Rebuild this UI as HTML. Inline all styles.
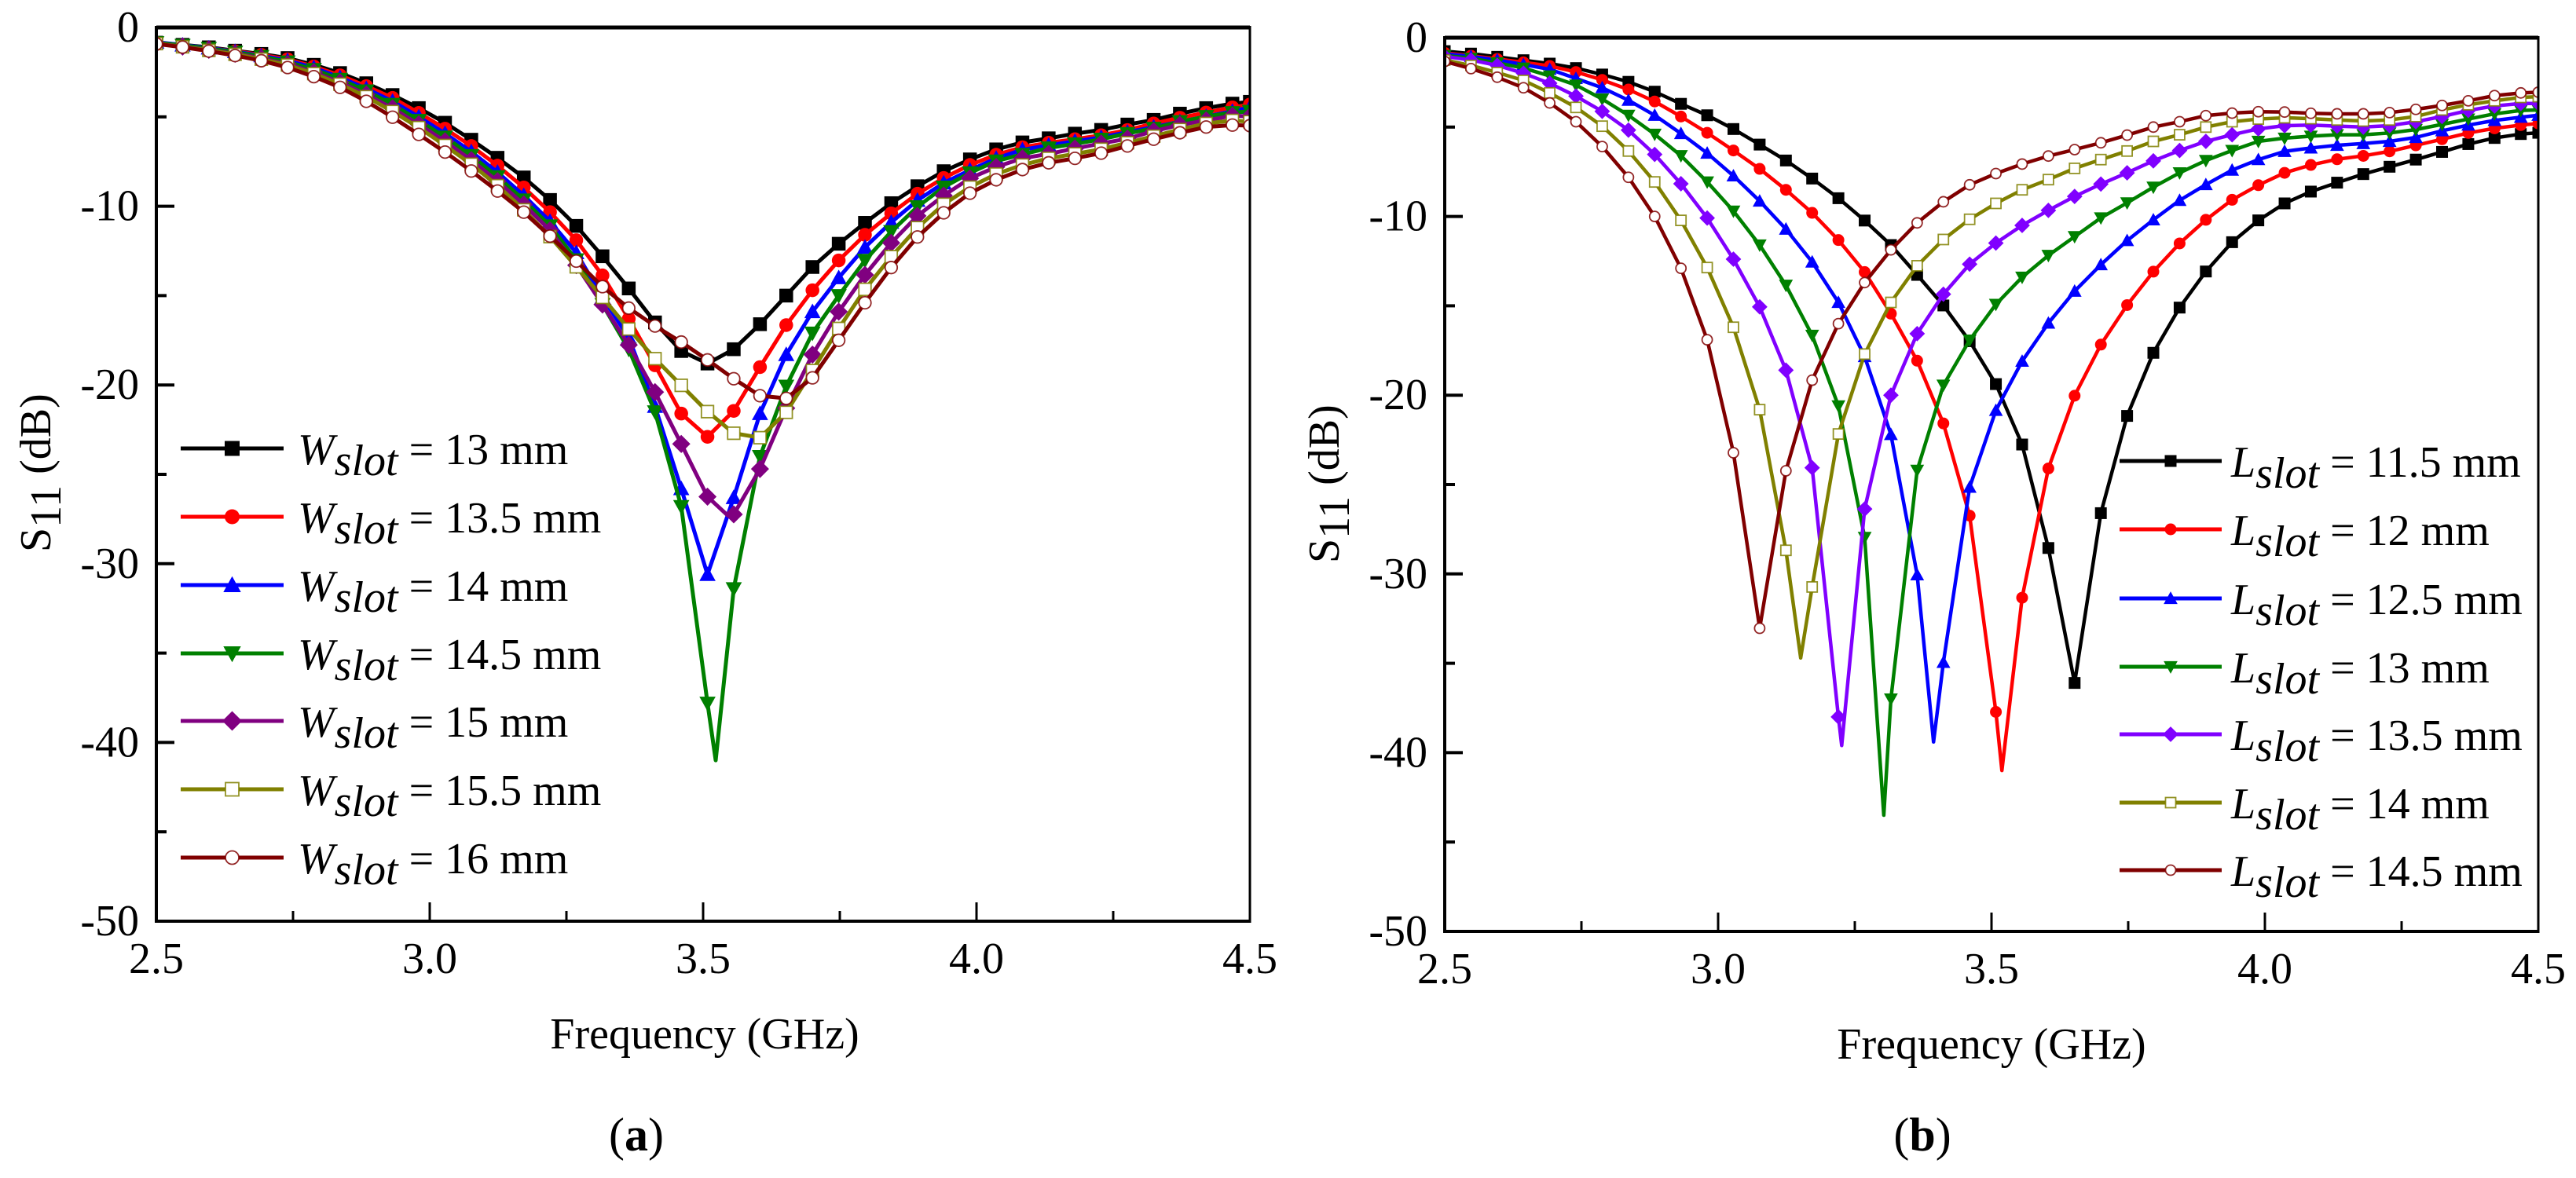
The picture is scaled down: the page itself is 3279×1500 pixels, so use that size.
<!DOCTYPE html>
<html lang="en">
<head>
<meta charset="utf-8">
<title>S11 versus frequency for slot width and slot length</title>
<style>
html,body{margin:0;padding:0;background:#fff;}
svg{display:block;}
text{font-family:"Liberation Serif","Times New Roman",serif;font-size:56px;fill:#000;}
.it{font-style:italic;}
</style>
</head>
<body>
<svg id="figure" xmlns="http://www.w3.org/2000/svg" width="3279" height="1500" viewBox="0 0 3279 1500">
<rect x="0" y="0" width="3279" height="1500" fill="#fff"/>
<defs>
<clipPath id="clip-a"><rect x="199" y="35" width="1392" height="1138"/></clipPath>
<clipPath id="clip-b"><rect x="1839" y="48" width="1392" height="1138"/></clipPath>
</defs>

<g id="panel-a">
<g id="series-a" clip-path="url(#clip-a)"></g>
<g id="axes-a"></g>
<g id="legend-keys-a"></g>
<g>
<text x="379" y="591"><tspan class="it">W</tspan><tspan class="it" dy="14">slot</tspan><tspan dy="-14"> = 13 mm</tspan></text>
<text x="379" y="678"><tspan class="it">W</tspan><tspan class="it" dy="14">slot</tspan><tspan dy="-14"> = 13.5 mm</tspan></text>
<text x="379" y="765"><tspan class="it">W</tspan><tspan class="it" dy="14">slot</tspan><tspan dy="-14"> = 14 mm</tspan></text>
<text x="379" y="852"><tspan class="it">W</tspan><tspan class="it" dy="14">slot</tspan><tspan dy="-14"> = 14.5 mm</tspan></text>
<text x="379" y="938"><tspan class="it">W</tspan><tspan class="it" dy="14">slot</tspan><tspan dy="-14"> = 15 mm</tspan></text>
<text x="379" y="1025"><tspan class="it">W</tspan><tspan class="it" dy="14">slot</tspan><tspan dy="-14"> = 15.5 mm</tspan></text>
<text x="379" y="1112"><tspan class="it">W</tspan><tspan class="it" dy="14">slot</tspan><tspan dy="-14"> = 16 mm</tspan></text>
</g>
<text x="897" y="1335" text-anchor="middle">Frequency (GHz)</text>
<text transform="translate(64,703) rotate(-90)">S<tspan dy="13">11</tspan><tspan dy="-13"> (dB)</tspan></text>
<text x="810" y="1465" text-anchor="middle" style="font-size:60px">(<tspan font-weight="bold">a</tspan>)</text>
</g>

<g id="panel-b">
<g id="series-b" clip-path="url(#clip-b)"></g>
<g id="axes-b"></g>
<g id="legend-keys-b"></g>
<g>
<text x="2840" y="607"><tspan class="it">L</tspan><tspan class="it" dy="14">slot</tspan><tspan dy="-14"> = 11.5 mm</tspan></text>
<text x="2840" y="694"><tspan class="it">L</tspan><tspan class="it" dy="14">slot</tspan><tspan dy="-14"> = 12 mm</tspan></text>
<text x="2840" y="782"><tspan class="it">L</tspan><tspan class="it" dy="14">slot</tspan><tspan dy="-14"> = 12.5 mm</tspan></text>
<text x="2840" y="869"><tspan class="it">L</tspan><tspan class="it" dy="14">slot</tspan><tspan dy="-14"> = 13 mm</tspan></text>
<text x="2840" y="955"><tspan class="it">L</tspan><tspan class="it" dy="14">slot</tspan><tspan dy="-14"> = 13.5 mm</tspan></text>
<text x="2840" y="1042"><tspan class="it">L</tspan><tspan class="it" dy="14">slot</tspan><tspan dy="-14"> = 14 mm</tspan></text>
<text x="2840" y="1128"><tspan class="it">L</tspan><tspan class="it" dy="14">slot</tspan><tspan dy="-14"> = 14.5 mm</tspan></text>
</g>
<text x="2535" y="1348" text-anchor="middle">Frequency (GHz)</text>
<text transform="translate(1704,717) rotate(-90)">S<tspan dy="13">11</tspan><tspan dy="-13"> (dB)</tspan></text>
<text x="2447" y="1465" text-anchor="middle" style="font-size:60px">(<tspan font-weight="bold">b</tspan>)</text>
</g>
</svg>

<script>
// Shared frequency samples (GHz) at which markers are placed.
const frequencies = [2.5,2.548,2.596,2.644,2.692,2.74,2.788,2.836,2.884,2.932,2.98,3.028,3.076,3.124,3.172,3.22,3.268,3.316,3.364,3.412,3.46,3.508,3.556,3.604,3.652,3.7,3.748,3.796,3.844,3.892,3.94,3.988,4.036,4.084,4.132,4.18,4.228,4.276,4.324,4.372,4.42,4.468,4.5];

// Axis tick values and labels
const xMajorTicks = [2.5,3.0,3.5,4.0,4.5];
const xMinorTicks = [2.75,3.25,3.75,4.25];
const xTickLabels = ['2.5','3.0','3.5','4.0','4.5'];
const yMajorTicks = [0,-10,-20,-30,-40,-50];
const yMinorTicks = [-5,-15,-25,-35,-45];
const yTickLabels = ['0','-10','-20','-30','-40','-50'];

// Panel (a): S11 in dB for each slot width
const wslot13 = [-0.85,-0.97,-1.11,-1.3,-1.48,-1.71,-2.09,-2.55,-3.12,-3.78,-4.51,-5.33,-6.28,-7.29,-8.39,-9.65,-11.1,-12.8,-14.6,-16.5,-18.1,-18.8,-18.0,-16.6,-15.0,-13.4,-12.1,-10.93,-9.83,-8.88,-8.04,-7.38,-6.82,-6.43,-6.2,-5.94,-5.73,-5.43,-5.17,-4.82,-4.51,-4.26,-4.16];
const wslot135 = [-0.85,-1.0,-1.15,-1.33,-1.53,-1.78,-2.18,-2.68,-3.28,-3.94,-4.78,-5.66,-6.63,-7.73,-8.95,-10.33,-11.9,-13.87,-16.3,-18.9,-21.6,-22.9,-21.45,-19.0,-16.65,-14.7,-13.03,-11.6,-10.4,-9.3,-8.42,-7.69,-7.12,-6.7,-6.45,-6.25,-6.03,-5.74,-5.37,-5.05,-4.76,-4.47,-4.31];
const wslot14 = [-0.82,-0.98,-1.15,-1.35,-1.58,-1.85,-2.25,-2.8,-3.42,-4.13,-5.0,-5.93,-6.95,-8.1,-9.4,-10.85,-12.6,-15.1,-17.35,-21.2,-25.8,-30.6,-26.3,-21.6,-18.3,-15.9,-14.0,-12.3,-10.9,-9.67,-8.7,-7.98,-7.32,-6.84,-6.59,-6.37,-6.15,-5.86,-5.57,-5.27,-4.98,-4.69,-4.47];
const wslot145 = [-0.85,-1.0,-1.17,-1.38,-1.62,-1.93,-2.35,-2.9,-3.55,-4.3,-5.2,-6.13,-7.17,-8.35,-9.65,-11.1,-13.0,-15.5,-18.0,-21.5,-26.8,-37.8,-31.4,-24.0,-20.07,-17.1,-15.0,-13.03,-11.42,-10.03,-8.93,-8.13,-7.47,-7.1,-6.74,-6.51,-6.25,-5.93,-5.64,-5.27,-4.98,-4.76,-4.69];
const wslot15 = [-0.9,-1.07,-1.25,-1.47,-1.72,-2.05,-2.5,-3.07,-3.75,-4.52,-5.42,-6.37,-7.42,-8.6,-9.9,-11.35,-13.3,-15.5,-17.76,-20.4,-23.3,-26.25,-27.24,-24.7,-21.3,-18.3,-15.9,-13.84,-12.05,-10.54,-9.4,-8.44,-7.8,-7.32,-7.07,-6.77,-6.49,-6.22,-5.8,-5.45,-5.2,-4.94,-4.97];
const wslot155 = [-0.9,-1.08,-1.28,-1.5,-1.77,-2.1,-2.58,-3.17,-3.87,-4.7,-5.6,-6.6,-7.65,-8.85,-10.2,-11.7,-13.39,-15.1,-16.87,-18.53,-20.02,-21.49,-22.7,-22.95,-21.53,-19.19,-16.84,-14.65,-12.82,-11.2,-9.89,-8.93,-8.2,-7.69,-7.32,-7.07,-6.81,-6.45,-6.08,-5.71,-5.37,-5.2,-5.27];
const wslot16 = [-0.92,-1.1,-1.32,-1.57,-1.86,-2.24,-2.75,-3.35,-4.13,-5.02,-5.98,-6.97,-8.03,-9.15,-10.33,-11.67,-13.07,-14.5,-15.7,-16.7,-17.6,-18.6,-19.65,-20.6,-20.75,-19.6,-17.5,-15.4,-13.43,-11.72,-10.37,-9.27,-8.52,-7.95,-7.57,-7.32,-7.03,-6.63,-6.25,-5.89,-5.57,-5.46,-5.49];

// Panel (a): resonance minima that fall between marker samples (null = none)
const wslotDipFrequency = [null,null,null,3.523,3.545,null,null];
const wslotDipValue = [null,null,null,-41.0,-27.3,null,null];

// Panel (b): S11 in dB for each slot length
const lslot115 = [-0.75,-0.89,-1.07,-1.26,-1.45,-1.7,-2.06,-2.47,-3.02,-3.7,-4.34,-5.11,-5.98,-6.87,-7.88,-8.98,-10.23,-11.6,-13.27,-14.98,-16.98,-19.38,-22.76,-28.55,-36.1,-26.6,-21.16,-17.63,-15.1,-13.08,-11.44,-10.22,-9.27,-8.61,-8.11,-7.63,-7.22,-6.82,-6.39,-5.95,-5.61,-5.39,-5.32];
const lslot12 = [-0.85,-1.01,-1.19,-1.38,-1.58,-1.92,-2.36,-2.9,-3.57,-4.41,-5.32,-6.31,-7.34,-8.51,-9.8,-11.32,-13.11,-15.44,-18.07,-21.58,-26.74,-37.72,-31.33,-24.1,-20.03,-17.17,-14.96,-13.09,-11.51,-10.19,-9.07,-8.25,-7.56,-7.12,-6.8,-6.61,-6.36,-6.02,-5.68,-5.33,-5.07,-4.89,-4.8];
const lslot125 = [-0.9,-1.05,-1.25,-1.5,-1.77,-2.28,-2.8,-3.5,-4.34,-5.36,-6.46,-7.73,-9.14,-10.71,-12.55,-14.81,-17.84,-22.2,-30.05,-34.95,-25.15,-20.85,-18.1,-15.97,-14.18,-12.7,-11.35,-10.19,-9.1,-8.22,-7.41,-6.82,-6.36,-6.17,-6.02,-5.92,-5.8,-5.58,-5.21,-4.89,-4.63,-4.45,-4.34];
const lslot13 = [-1.0,-1.15,-1.41,-1.7,-2.14,-2.65,-3.43,-4.34,-5.4,-6.6,-8.07,-9.7,-11.6,-13.85,-16.65,-20.6,-27.96,-37.0,-24.2,-19.44,-16.92,-14.92,-13.4,-12.18,-11.13,-10.08,-9.24,-8.36,-7.56,-6.87,-6.31,-5.8,-5.62,-5.51,-5.43,-5.43,-5.33,-5.14,-4.85,-4.55,-4.26,-4.07,-4.04];
const lslot135 = [-1.05,-1.25,-1.55,-1.99,-2.55,-3.27,-4.12,-5.17,-6.53,-8.17,-10.09,-12.39,-15.06,-18.6,-24.06,-38.0,-26.37,-20.0,-16.56,-14.35,-12.67,-11.49,-10.5,-9.66,-8.88,-8.19,-7.56,-6.89,-6.31,-5.8,-5.43,-5.1,-4.92,-4.89,-4.95,-5.0,-4.92,-4.7,-4.41,-4.07,-3.82,-3.68,-3.68];
const lslot14 = [-1.25,-1.55,-1.95,-2.39,-3.09,-3.9,-4.95,-6.34,-8.07,-10.22,-12.86,-16.2,-20.81,-28.68,-30.73,-22.17,-17.7,-14.81,-12.76,-11.29,-10.16,-9.27,-8.51,-7.94,-7.31,-6.82,-6.34,-5.8,-5.43,-5.0,-4.7,-4.55,-4.48,-4.53,-4.6,-4.66,-4.6,-4.41,-4.04,-3.75,-3.53,-3.34,-3.3];
const lslot145 = [-1.33,-1.73,-2.21,-2.8,-3.65,-4.7,-6.09,-7.81,-10.0,-12.9,-16.9,-23.22,-33.04,-24.23,-19.16,-16.0,-13.7,-11.87,-10.36,-9.18,-8.23,-7.6,-7.07,-6.62,-6.26,-5.88,-5.45,-5.0,-4.7,-4.36,-4.22,-4.14,-4.16,-4.23,-4.26,-4.26,-4.19,-4.01,-3.79,-3.53,-3.24,-3.09,-3.05];

// Panel (b): resonance minima that fall between marker samples (null = none)
const lslotDipFrequency = [null,3.519,3.394,3.303,3.226,3.151,null];
const lslotDipValue = [null,-41.0,-39.4,-43.5,-39.6,-34.7,null];

const NS = 'http://www.w3.org/2000/svg';
const markerKinds = ['square','circle','up','down','diamond','open-square','open-circle'];
const colorsA = ['#000000','#ff0000','#0000ff','#008000','#800080','#808000','#800000'];
const colorsB = ['#000000','#ff0000','#0000ff','#008000','#8000ff','#808000','#800000'];
const seriesNamesA = ['wslot-13','wslot-13-5','wslot-14','wslot-14-5','wslot-15','wslot-15-5','wslot-16'];
const seriesNamesB = ['lslot-11-5','lslot-12','lslot-12-5','lslot-13','lslot-13-5','lslot-14','lslot-14-5'];

function node(tag, attrs, parent) {
  const el = document.createElementNS(NS, tag);
  for (const k in attrs) el.setAttribute(k, attrs[k]);
  parent.appendChild(el);
  return el;
}

function drawMarker(parent, kind, cx, cy, size, color, name) {
  const h = size / 2;
  let el;
  if (kind === 'square') {
    el = node('rect', {x: cx - h, y: cy - h, width: size, height: size, fill: color}, parent);
  } else if (kind === 'circle') {
    el = node('circle', {cx: cx, cy: cy, r: h, fill: color}, parent);
  } else if (kind === 'up') {
    const t = h * 1.18;
    el = node('path', {d: 'M' + cx + ' ' + (cy - t) + 'L' + (cx + t) + ' ' + (cy + t * 0.8) + 'L' + (cx - t) + ' ' + (cy + t * 0.8) + 'Z', fill: color}, parent);
  } else if (kind === 'down') {
    const t = h * 1.18;
    el = node('path', {d: 'M' + cx + ' ' + (cy + t) + 'L' + (cx + t) + ' ' + (cy - t * 0.8) + 'L' + (cx - t) + ' ' + (cy - t * 0.8) + 'Z', fill: color}, parent);
  } else if (kind === 'diamond') {
    const t = h * 1.32;
    el = node('path', {d: 'M' + cx + ' ' + (cy - t) + 'L' + (cx + t) + ' ' + cy + 'L' + cx + ' ' + (cy + t) + 'L' + (cx - t) + ' ' + cy + 'Z', fill: color}, parent);
  } else if (kind === 'open-square') {
    el = node('rect', {x: cx - h + 1, y: cy - h + 1, width: size - 2, height: size - 2, fill: '#fff', stroke: color, 'stroke-width': 1.8, 'stroke-opacity': 0.85}, parent);
  } else {
    el = node('circle', {cx: cx, cy: cy, r: h - 1, fill: '#fff', stroke: color, 'stroke-width': 1.8, 'stroke-opacity': 0.85}, parent);
  }
  
  
  return el;
}

function drawAxes(group, box, prefix) {
  const sx = f => box.x0 + (f - 2.5) / 2 * (box.x1 - box.x0);
  const sy = v => box.y0 + (-v) / 50 * (box.y1 - box.y0);
  const frame = node('path', {d: 'M' + box.x0 + ' ' + box.y0 + 'H' + box.x1, stroke: '#000', 'stroke-width': 5, fill: 'none'}, group);
  
  
  const bottom = node('path', {d: 'M' + (box.x0 - 2) + ' ' + box.y1 + 'H' + (box.x1 + 1.5), stroke: '#000', 'stroke-width': 4, fill: 'none'}, group);
  
  
  const left = node('path', {d: 'M' + box.x0 + ' ' + (box.y0 - 2) + 'V' + box.y1, stroke: '#000', 'stroke-width': 4, fill: 'none'}, group);
  
  
  const right = node('path', {d: 'M' + box.x1 + ' ' + (box.y0 - 2) + 'V' + box.y1, stroke: '#000', 'stroke-width': 3, fill: 'none'}, group);
  
  

  xMajorTicks.forEach((f, i) => {
    const t = node('path', {d: 'M' + sx(f) + ' ' + box.y1 + 'V' + (box.y1 - 24), stroke: '#000', 'stroke-width': 3, fill: 'none'}, group);
    
    
    const l = node('text', {x: sx(f), y: box.y1 + 66, 'text-anchor': 'middle'}, group);
    
    
    l.textContent = xTickLabels[i];
  });
  xMinorTicks.forEach(f => {
    const t = node('path', {d: 'M' + sx(f) + ' ' + box.y1 + 'V' + (box.y1 - 13), stroke: '#000', 'stroke-width': 3, fill: 'none'}, group);
    
    
  });
  yMajorTicks.forEach((v, i) => {
    const t = node('path', {d: 'M' + box.x0 + ' ' + sy(v) + 'H' + (box.x0 + 23), stroke: '#000', 'stroke-width': 4, fill: 'none'}, group);
    
    
    const l = node('text', {x: box.x0 - 22, y: sy(v) + 18, 'text-anchor': 'end'}, group);
    
    
    l.textContent = yTickLabels[i];
  });
  yMinorTicks.forEach(v => {
    const t = node('path', {d: 'M' + box.x0 + ' ' + sy(v) + 'H' + (box.x0 + 13), stroke: '#000', 'stroke-width': 4, fill: 'none'}, group);
    
    
  });
}

function drawSeries(group, box, seriesList, dipF, dipV, colors, names, lineWidth, size) {
  const sx = f => box.x0 + (f - 2.5) / 2 * (box.x1 - box.x0);
  const sy = v => box.y0 + (-v) / 50 * (box.y1 - box.y0);
  seriesList.forEach((values, s) => {
    const g = node('g', {}, group);
    
    
    const pts = frequencies.map((f, i) => [f, values[i]]);
    if (dipF[s] !== null) pts.push([dipF[s], dipV[s]]);
    pts.sort((a, b) => a[0] - b[0]);
    const d = pts.map((p, i) => (i ? 'L' : 'M') + sx(p[0]).toFixed(2) + ' ' + sy(p[1]).toFixed(2)).join('');
    const line = node('path', {d: d, fill: 'none', stroke: colors[s], 'stroke-width': lineWidth, 'stroke-linejoin': 'round'}, g);
    
    
    frequencies.forEach((f, i) => {
      drawMarker(g, markerKinds[s], sx(f), sy(values[i]), size, colors[s], 'point-' + names[s]);
    });
  });
}

function drawLegendKeys(group, x0, x1, rows, colors, names, size) {
  rows.forEach((y, s) => {
    const line = node('path', {d: 'M' + x0 + ' ' + y + 'H' + x1, stroke: colors[s], 'stroke-width': 5, fill: 'none'}, group);
    
    
    drawMarker(group, markerKinds[s], (x0 + x1) / 2, y, size, colors[s], 'legend-marker-' + names[s]);
  });
}

const boxA = {x0: 199, x1: 1591, y0: 35, y1: 1173};
const boxB = {x0: 1839, x1: 3231, y0: 48, y1: 1186};

drawSeries(document.getElementById('series-a'), boxA, [wslot13, wslot135, wslot14, wslot145, wslot15, wslot155, wslot16], wslotDipFrequency, wslotDipValue, colorsA, seriesNamesA, 5, 17.5);
drawSeries(document.getElementById('series-b'), boxB, [lslot115, lslot12, lslot125, lslot13, lslot135, lslot14, lslot145], lslotDipFrequency, lslotDipValue, colorsB, seriesNamesB, 4.5, 15);
drawAxes(document.getElementById('axes-a'), boxA, 'panel-a');
drawAxes(document.getElementById('axes-b'), boxB, 'panel-b');
drawLegendKeys(document.getElementById('legend-keys-a'), 230, 361, [571, 658, 745, 832, 918, 1005, 1092], colorsA, seriesNamesA, 19);
drawLegendKeys(document.getElementById('legend-keys-b'), 2698, 2828, [587, 674, 762, 849, 935, 1022, 1108], colorsB, seriesNamesB, 15);
</script>
</body>
</html>
